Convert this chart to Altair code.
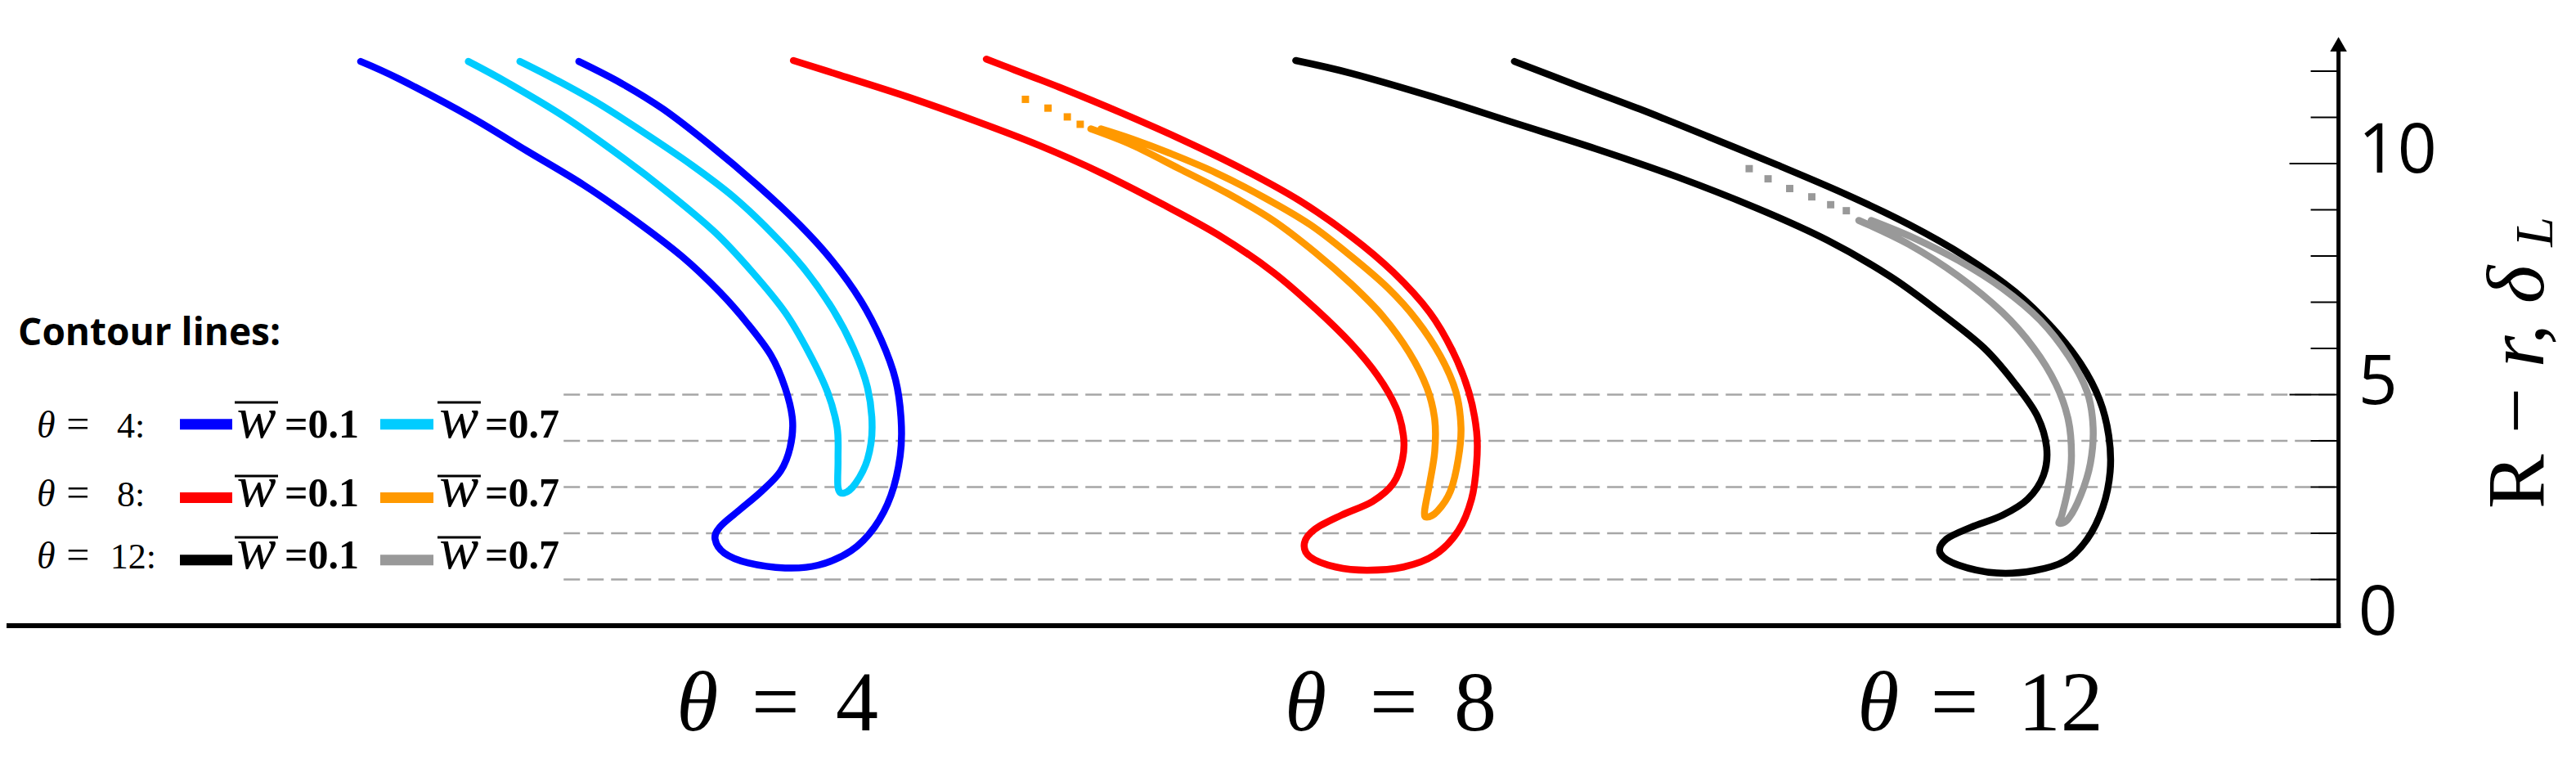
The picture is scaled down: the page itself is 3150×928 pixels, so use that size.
import altair as alt
import pandas as pd

# ---------------- data ----------------
# x: horizontal position (arbitrary length units, same unit as y), y: R - r
blue_x = [7.69, 8.55, 10.08, 11.31, 12.53, 13.65, 14.67, 15.49, 16.10, 16.61, 16.91, 17.07, 17.02, 16.81,
          16.40, 15.89, 15.49, 15.39, 15.59, 16.10, 16.91, 17.63, 18.34, 18.85, 19.21, 19.41, 19.43, 19.31,
          19.00, 18.55, 17.93, 17.22, 16.30, 15.28, 14.26, 13.35, 12.43]
blue_y = [12.21, 11.82, 11.01, 10.27, 9.54, 8.77, 7.99, 7.22, 6.53, 5.84, 5.15, 4.46, 3.86, 3.34,
          2.91, 2.48, 2.13, 1.87, 1.57, 1.36, 1.25, 1.31, 1.62, 2.13, 2.82, 3.68, 4.46, 5.32,
          6.18, 7.04, 7.90, 8.68, 9.54, 10.40, 11.18, 11.74, 12.21]

cyan_x = [10.03, 10.90, 12.12, 13.35, 14.37, 15.39, 16.20, 16.91, 17.42, 17.83, 18.04, 18.06, 18.06, 18.19,
          18.44, 18.70, 18.80, 18.70, 18.39, 17.93, 17.32, 16.61, 15.79, 14.88, 13.86, 12.84, 11.92, 11.15]
cyan_y = [12.21, 11.74, 11.01, 10.15, 9.37, 8.51, 7.65, 6.78, 5.92, 5.06, 4.29, 3.60, 2.99, 2.87,
          3.08, 3.60, 4.29, 5.15, 6.01, 6.87, 7.73, 8.51, 9.28, 9.97, 10.66, 11.31, 11.82, 12.21]

red_x = [17.09, 18.11, 19.58, 21.05, 22.41, 23.77, 25.13, 26.38, 27.51, 28.42, 29.21, 29.78, 30.18, 30.34,
         30.32, 30.12, 29.67, 28.99, 28.42, 28.19, 28.31, 28.87, 29.55, 30.34, 31.02, 31.53, 31.82, 31.93,
         31.93, 31.76, 31.42, 30.91, 30.12, 29.21, 28.08, 26.83, 25.59, 24.23, 22.87, 21.62, 21.28]
red_y = [12.23, 11.91, 11.44, 10.92, 10.40, 9.80, 9.11, 8.42, 7.65, 6.87, 6.10, 5.41, 4.72, 4.11,
         3.60, 3.08, 2.69, 2.39, 2.09, 1.79, 1.49, 1.27, 1.20, 1.27, 1.53, 2.05, 2.74, 3.51,
         4.20, 5.06, 5.92, 6.78, 7.65, 8.42, 9.20, 9.89, 10.49, 11.09, 11.65, 12.13, 12.26]

orange_x = [23.55, 24.45, 25.47, 26.49, 27.51, 28.42, 29.21, 29.89, 30.46, 30.85, 31.02, 31.02, 30.91, 30.80,
            30.85, 31.08, 31.36, 31.53, 31.59, 31.48, 31.14, 30.63, 30.01, 29.21, 28.31, 27.29, 26.27, 25.25,
            24.45, 23.77]
orange_y = [10.75, 10.40, 9.89, 9.37, 8.77, 8.08, 7.39, 6.70, 5.92, 5.15, 4.46, 3.77, 3.08, 2.48,
            2.35, 2.48, 2.91, 3.60, 4.29, 5.06, 5.84, 6.61, 7.30, 7.99, 8.68, 9.28, 9.80, 10.23,
            10.53, 10.75]
orange_dot_x = [22.13, 22.62, 23.04, 23.32]
orange_dot_y = [11.39, 11.20, 11.01, 10.85]

black_x = [28.00, 29.22, 30.99, 32.75, 34.52, 36.29, 38.05, 39.55, 40.91, 41.99, 42.95, 43.63, 44.10, 44.31,
           44.24, 43.90, 43.35, 42.67, 42.13, 42.00, 42.40, 43.22, 44.03, 44.71, 45.19, 45.53, 45.69, 45.66,
           45.46, 45.05, 44.44, 43.63, 42.54, 41.32, 39.96, 38.46, 36.97, 35.47, 34.11, 32.75]
black_y = [12.23, 11.95, 11.44, 10.88, 10.32, 9.71, 9.02, 8.34, 7.56, 6.78, 6.01, 5.23, 4.55, 3.86,
           3.25, 2.74, 2.39, 2.13, 1.87, 1.57, 1.31, 1.14, 1.19, 1.40, 1.87, 2.56, 3.34, 4.11,
           4.89, 5.67, 6.44, 7.22, 7.99, 8.68, 9.33, 9.97, 10.58, 11.18, 11.69, 12.21]

grey_x = [40.23, 41.32, 42.40, 43.35, 44.03, 44.51, 44.78, 44.85, 44.78, 44.64, 44.58, 44.78, 45.05, 45.26,
          45.32, 45.19, 44.78, 44.17, 43.35, 42.40, 41.45, 40.50]
grey_y = [8.77, 8.25, 7.56, 6.78, 6.01, 5.23, 4.46, 3.68, 2.99, 2.39, 2.22, 2.31, 2.82, 3.51,
          4.29, 5.06, 5.84, 6.61, 7.30, 7.90, 8.38, 8.77]
grey_dot_x = [37.85, 38.26, 38.73, 39.21, 39.62, 39.96]
grey_dot_y = [9.89, 9.67, 9.46, 9.28, 9.11, 8.98]

theta_values = ["4", "8", "12"]
w_labels = ["=0.1", "=0.7"]
tick_values = [1, 2, 3, 4, 5, 6, 7, 8, 9, 10, 11, 12]
major_ticks = [5, 10]
label_values = [0, 5, 10]
dash_levels = [1, 2, 3, 4, 5]

# ---------------- layout / style ----------------
curve_names = ["t4_w01", "t4_w07", "t8_w01", "t8_w07", "t12_w01", "t12_w07"]
curve_colors = ["#0000FF", "#00CCFF", "#FF0000", "#FF9900", "#000000", "#999999"]

AXIS_X = 50.65
DASH_START = 12.10
ARROW_BASE = 12.48
SERIF = "Liberation Serif"

XS = alt.Scale(domain=[0, 55.666], nice=False, zero=False)
YS = alt.Scale(domain=[-2.743, 13.398], nice=False, zero=False)


def X(f):
    return alt.X(f, type="quantitative", scale=XS, axis=None)


def Y(f):
    return alt.Y(f, type="quantitative", scale=YS, axis=None)


COLOR = alt.Color("curve:N", scale=alt.Scale(domain=curve_names, range=curve_colors), legend=None)

# ---------------- tables ----------------
rows = []
for name, xs, ys in [("t4_w01", blue_x, blue_y), ("t4_w07", cyan_x, cyan_y),
                     ("t8_w01", red_x, red_y), ("t8_w07", orange_x, orange_y),
                     ("t12_w01", black_x, black_y), ("t12_w07", grey_x, grey_y)]:
    for i, (a, b) in enumerate(zip(xs, ys)):
        rows.append({"curve": name, "i": i, "x": a, "y": b})
curve_df = pd.DataFrame(rows)

dot_rows = []
for name, xs, ys in [("t8_w07", orange_dot_x, orange_dot_y), ("t12_w07", grey_dot_x, grey_dot_y)]:
    for a, b in zip(xs, ys):
        dot_rows.append({"curve": name, "x": a, "y": b})
dot_df = pd.DataFrame(dot_rows)

dash_df = pd.DataFrame({"y": dash_levels, "x0": DASH_START, "x1": AXIS_X})
tick_df = pd.DataFrame({"y": tick_values,
                        "x0": [AXIS_X - (1.066 if v in major_ticks else 0.604) for v in tick_values],
                        "x1": AXIS_X})
label_df = pd.DataFrame({"y": label_values, "x": 51.08, "t": [str(v) for v in label_values]})

xaxis_df = pd.DataFrame({"y": [0], "x0": [0], "x1": [AXIS_X + 0.05]})
yaxis_df = pd.DataFrame({"x": [AXIS_X], "y0": [-0.05], "y1": [ARROW_BASE]})
arrow_df = pd.DataFrame({"x": [AXIS_X], "y": [12.58]})

# bottom group labels
bottom_theta = pd.DataFrame({"x": [14.55, 27.76, 40.20], "y": -2.27, "t": "θ"})
bottom_eq = pd.DataFrame({"x": [16.18, 29.61, 41.79], "y": -2.27, "t": "="})
bottom_num = pd.DataFrame({"x": [18.01, 31.44, 43.69], "y": -2.27, "t": theta_values})

# legend
leg_base = [4.07, 2.58, 1.24]
leg_sw = [4.36, 2.77, 1.42]
leg_ol = [4.83, 3.24, 1.91]
leg_theta = pd.DataFrame({"x": 0.657, "y": leg_base, "t": "θ"})
leg_eq = pd.DataFrame({"x": 1.30, "y": leg_base, "t": "="})
leg_num = pd.DataFrame({"x": [2.40, 2.40, 2.25], "y": leg_base, "t": [v + ":" for v in theta_values]})
sw_rows, w_rows, ol_rows, wl_rows = [], [], [], []
for r in range(3):
    for k, (sx0, sx1, wx, ox0, ox1, lx) in enumerate([(3.766, 4.902, 5.00, 4.956, 5.897, 6.04),
                                                      (8.117, 9.272, 9.40, 9.36, 10.30, 10.39)]):
        sw_rows.append({"curve": curve_names[2 * r + k], "x0": sx0, "x1": sx1, "y": leg_sw[r]})
        w_rows.append({"x": wx, "y": leg_base[r], "t": "w"})
        ol_rows.append({"x0": ox0, "x1": ox1, "y": leg_ol[r]})
        wl_rows.append({"x": lx, "y": leg_base[r], "t": w_labels[k]})
sw_df = pd.DataFrame(sw_rows)
w_df = pd.DataFrame(w_rows)
ol_df = pd.DataFrame(ol_rows)
wl_df = pd.DataFrame(wl_rows)
title_df = pd.DataFrame({"x": [0.25], "y": [6.07], "t": ["Contour lines:"]})

ytitle_a = pd.DataFrame({"x": [55.10], "y": [2.53], "t": ["R − "]})
ytitle_b = pd.DataFrame({"x": [55.10], "y": [5.59], "t": ["r, δ"]})
ytitle_c = pd.DataFrame({"x": [55.30], "y": [8.20], "t": ["L"]})

# ---------------- layers ----------------
dashes = alt.Chart(dash_df).mark_rule(color="#a6a6a6", strokeWidth=2.5, strokeDash=[20, 9]).encode(
    x=X("x0"), x2=alt.X2("x1"), y=Y("y"))

curves = alt.Chart(curve_df).mark_line(strokeWidth=8.5, strokeCap="round", strokeJoin="round",
                                       interpolate="cardinal").encode(
    x=X("x"), y=Y("y"), order="i:Q", detail="curve:N", color=COLOR)

dots = alt.Chart(dot_df).mark_square(size=80, opacity=1).encode(x=X("x"), y=Y("y"), color=COLOR)

xaxis = alt.Chart(xaxis_df).mark_rule(color="black", strokeWidth=6).encode(
    x=X("x0"), x2=alt.X2("x1"), y=Y("y"))
yaxis = alt.Chart(yaxis_df).mark_rule(color="black", strokeWidth=5).encode(
    x=X("x"), y=Y("y0"), y2=alt.Y2("y1"))
arrow = alt.Chart(arrow_df).mark_point(shape="triangle-up", filled=True, size=420, color="black",
                                       opacity=1).encode(x=X("x"), y=Y("y"))
ticks = alt.Chart(tick_df).mark_rule(color="black", strokeWidth=2).encode(
    x=X("x0"), x2=alt.X2("x1"), y=Y("y"))
labels = alt.Chart(label_df).mark_text(font="Open Sans", fontSize=84, align="left", baseline="alphabetic",
                                       dy=11, color="black").encode(x=X("x"), y=Y("y"), text="t:N")


def txt(df, **kw):
    base = dict(align="left", baseline="alphabetic", color="black")
    base.update(kw)
    return alt.Chart(df).mark_text(**base).encode(x=X("x"), y=Y("y"), text="t:N")


b1 = txt(bottom_theta, font=SERIF, fontSize=104, fontStyle="italic")
b2 = txt(bottom_eq, font=SERIF, fontSize=104)
b3 = txt(bottom_num, font=SERIF, fontSize=104)

l_title = txt(title_df, font="Open Sans", fontSize=46, fontWeight="bold")
l_theta = txt(leg_theta, font=SERIF, fontSize=46, fontStyle="italic")
l_eq = txt(leg_eq, font=SERIF, fontSize=50)
l_num = txt(leg_num, font=SERIF, fontSize=44)
l_w = txt(w_df, font=SERIF, fontSize=72, fontStyle="italic")
l_wl = txt(wl_df, font=SERIF, fontSize=50, fontWeight="bold")
l_sw = alt.Chart(sw_df).mark_rule(strokeWidth=13).encode(x=X("x0"), x2=alt.X2("x1"), y=Y("y"), color=COLOR)
l_ol = alt.Chart(ol_df).mark_rule(color="black", strokeWidth=3).encode(x=X("x0"), x2=alt.X2("x1"), y=Y("y"))

yt_a = txt(ytitle_a, font=SERIF, fontSize=100, angle=270)
yt_b = txt(ytitle_b, font=SERIF, fontSize=100, angle=270, fontStyle="italic")
yt_c = txt(ytitle_c, font=SERIF, fontSize=66, angle=270, fontStyle="italic")

chart = alt.layer(
    dashes, curves, dots, xaxis, ticks, yaxis, arrow, labels,
    b1, b2, b3, l_title, l_theta, l_eq, l_num, l_w, l_wl, l_sw, l_ol, yt_a, yt_b, yt_c
).properties(
    width=3134, height=912, autosize=alt.AutoSizeParams(type="none"), padding=0, background="white"
).configure_view(stroke=None)

chart.save("out.html", embed_options={"renderer": "svg", "actions": False})
